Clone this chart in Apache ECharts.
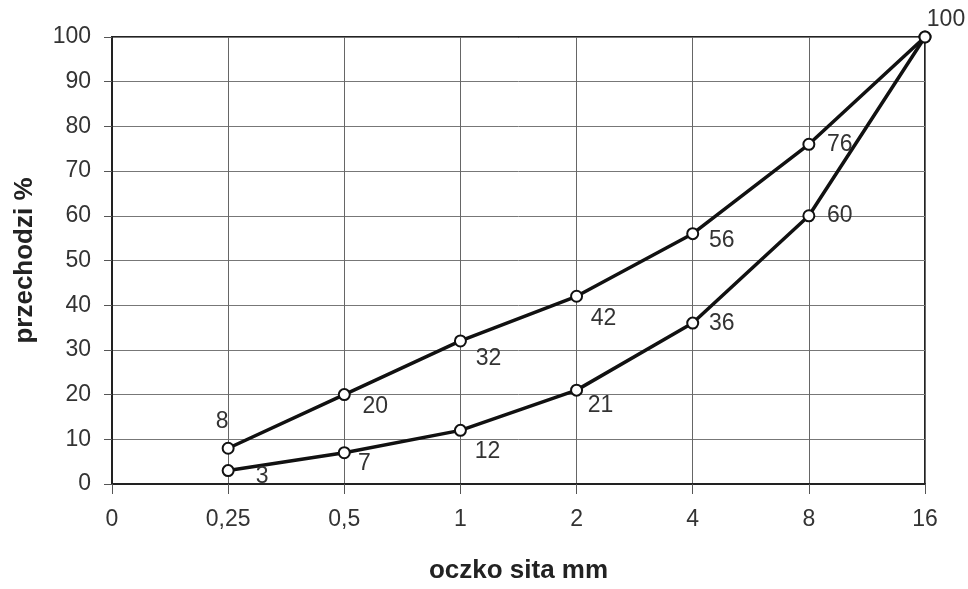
<!DOCTYPE html>
<html><head><meta charset="utf-8">
<script src="https://cdn.jsdelivr.net/npm/echarts@6/dist/echarts.min.js"></script>
<style>html,body{margin:0;padding:0;background:#fff}#c{width:968px;height:589px}</style>
</head><body><div id="c"></div>
<script>
const categories = ['0', '0,25', '0,5', '1', '2', '4', '8', '16'];
const upperValues = [null, 8, 20, 32, 42, 56, 76, 100];
const lowerValues = [null, 3, 7, 12, 21, 36, 60, 100];
const yTicks = [0, 10, 20, 30, 40, 50, 60, 70, 80, 90, 100];

// label offsets (layout only)
const upperOffsets = [null, [-6, -27], [31, 12], [28, 18], [27, 22], [29, 7], [31, 0], [21, -17]];
const lowerOffsets = [null, [34, 6], [20, 11], [27, 21], [24, 16], [29, 1], [31, 0], null];

const FONT = 'Liberation Sans, Arial, sans-serif';
function build(vals, offs) {
  return vals.map((v, i) => {
    if (v == null) return null;
    const o = offs[i];
    return {
      value: v,
      label: o ? { show: true, position: 'inside', offset: o } : { show: false }
    };
  });
}
const chart = echarts.init(document.getElementById('c'));
chart.setOption({
  animation: false,
  grid: { left: 112, right: 43, top: 37, bottom: 100, show: true, borderColor: '#222', borderWidth: 2 },
  xAxis: {
    type: 'category', data: categories, boundaryGap: false,
    name: 'oczko sita mm', nameLocation: 'middle', nameGap: 74,
    nameTextStyle: { fontFamily: FONT, fontSize: 26, fontWeight: 'bold', color: '#222' },
    axisLine: { lineStyle: { color: '#222', width: 2 } },
    axisTick: { show: true, length: 10, lineStyle: { color: '#555' }, alignWithLabel: true },
    axisLabel: { fontFamily: FONT, fontSize: 23, color: '#333', margin: 24 },
    splitLine: { show: true, lineStyle: { color: '#666', width: 1 } }
  },
  yAxis: {
    type: 'value', min: yTicks[0], max: yTicks[yTicks.length - 1], interval: 10,
    name: 'przechodzi %', nameLocation: 'middle', nameGap: 74, nameRotate: 90,
    nameTextStyle: { fontFamily: FONT, fontSize: 26, fontWeight: 'bold', color: '#222' },
    axisLine: { show: true, lineStyle: { color: '#222', width: 2 } },
    axisTick: { show: true, length: 8, lineStyle: { color: '#555' } },
    axisLabel: { fontFamily: FONT, fontSize: 23, color: '#333', margin: 21 },
    splitLine: { show: true, lineStyle: { color: '#777', width: 1 } }
  },
  series: [
    {
      type: 'line', data: build(upperValues, upperOffsets), connectNulls: false,
      symbol: 'circle', symbolSize: 11,
      itemStyle: { color: '#fff', borderColor: '#111', borderWidth: 2 },
      lineStyle: { color: '#111', width: 3.5 },
      label: { fontFamily: FONT, fontSize: 23, color: '#333' },
      z: 3
    },
    {
      type: 'line', data: build(lowerValues, lowerOffsets), connectNulls: false,
      symbol: 'circle', symbolSize: 11,
      itemStyle: { color: '#fff', borderColor: '#111', borderWidth: 2 },
      lineStyle: { color: '#111', width: 3.5 },
      label: { fontFamily: FONT, fontSize: 23, color: '#333' },
      z: 2
    }
  ]
});
</script></body></html>
